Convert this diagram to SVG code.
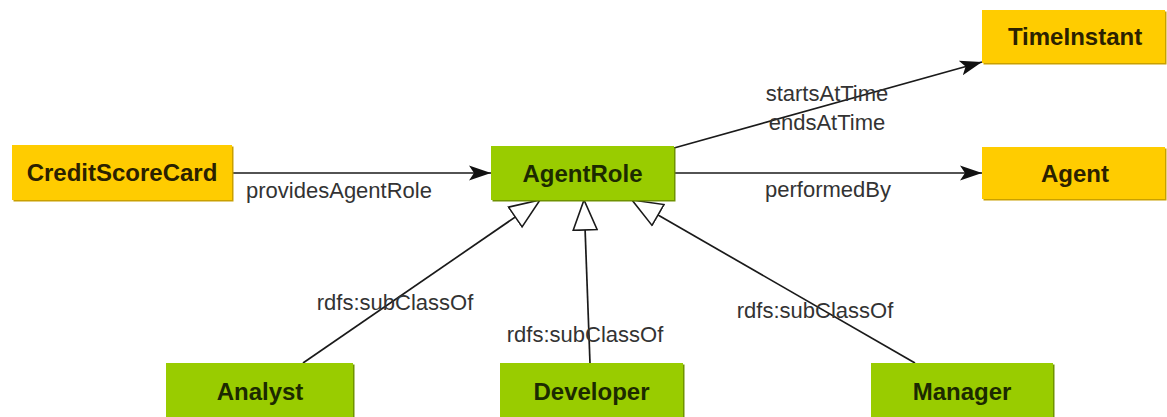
<svg xmlns="http://www.w3.org/2000/svg" width="1167" height="417" viewBox="0 0 1167 417">
  <defs>
    <style>
      .shade-y { fill: #c9a000; }
      .shade-g { fill: #6f9200; }
      .box-y { fill: #ffcc00; }
      .box-g { fill: #99cc00; }
      .cls { font-family: "Liberation Sans", Arial, sans-serif; font-weight: bold; font-size: 24px; text-anchor: middle; dominant-baseline: central; }
      .cls-y { fill: #2b2100; }
      .cls-g { fill: #1c2a00; }
      .edge { fill: none; stroke: #1a1a1a; stroke-width: 1.7; }
      .lbl { font-family: "Liberation Sans", Arial, sans-serif; font-size: 22px; fill: #333333; text-anchor: middle; }
    </style>
    <!-- filled arrowhead for object properties -->
    <marker id="arrow" markerUnits="userSpaceOnUse" markerWidth="24" markerHeight="18" refX="22" refY="9" orient="auto">
      <path d="M0,1.5 L22,9 L0,16.5 L5,9 Z" fill="#111111"/>
    </marker>
    <!-- hollow triangle for rdfs:subClassOf -->
    <marker id="tri" markerUnits="userSpaceOnUse" markerWidth="34" markerHeight="28" refX="31" refY="14" orient="auto">
      <path d="M1,2 L31,14 L1,26 Z" fill="#ffffff" stroke="#1a1a1a" stroke-width="1.6"/>
    </marker>
  </defs>

  <rect width="1167" height="417" fill="#ffffff"/>

  <g id="connectors">
    <line class="edge" x1="232" y1="173" x2="491" y2="173" marker-end="url(#arrow)"/>
    <line class="edge" x1="674" y1="173" x2="982" y2="173" marker-end="url(#arrow)"/>
    <line class="edge" x1="674" y1="148" x2="982" y2="62" marker-end="url(#arrow)"/>
    <line class="edge" x1="303" y1="363" x2="540" y2="200" marker-end="url(#tri)"/>
    <line class="edge" x1="590" y1="363" x2="584" y2="200" marker-end="url(#tri)"/>
    <line class="edge" x1="915" y1="363" x2="632" y2="200" marker-end="url(#tri)"/>

    <text class="lbl" x="339" y="198">providesAgentRole</text>
    <text class="lbl" x="828" y="197">performedBy</text>
    <text class="lbl" x="827" y="101">startsAtTime</text>
    <text class="lbl" x="827" y="130">endsAtTime</text>
    <text class="lbl" x="395" y="310">rdfs:subClassOf</text>
    <text class="lbl" x="585" y="342">rdfs:subClassOf</text>
    <text class="lbl" x="815" y="318">rdfs:subClassOf</text>
  </g>

  <g id="CreditScoreCard">
    <rect class="shade-y" x="13.5" y="146.5" width="220" height="55"/>
    <rect class="box-y" x="12" y="145" width="220" height="55"/>
    <text class="cls cls-y" x="122" y="172.5">CreditScoreCard</text>
  </g>

  <g id="AgentRole">
    <rect class="shade-g" x="492.5" y="147.5" width="183" height="54"/>
    <rect class="box-g" x="491" y="146" width="183" height="54"/>
    <text class="cls cls-g" x="582.5" y="173">AgentRole</text>
  </g>

  <g id="TimeInstant">
    <rect class="shade-y" x="983.5" y="11.5" width="183" height="53"/>
    <rect class="box-y" x="982" y="10" width="183" height="53"/>
    <text class="cls cls-y" x="1075" y="36.5">TimeInstant</text>
  </g>

  <g id="Agent">
    <rect class="shade-y" x="983.5" y="148.5" width="183" height="52"/>
    <rect class="box-y" x="982" y="147" width="183" height="52"/>
    <text class="cls cls-y" x="1075" y="173">Agent</text>
  </g>

  <g id="Analyst">
    <rect class="shade-g" x="167.5" y="364.5" width="187" height="56"/>
    <rect class="box-g" x="166" y="363" width="187" height="56"/>
    <text class="cls cls-g" x="260" y="391">Analyst</text>
  </g>

  <g id="Developer">
    <rect class="shade-g" x="501.5" y="364.5" width="183" height="56"/>
    <rect class="box-g" x="500" y="363" width="183" height="56"/>
    <text class="cls cls-g" x="591.5" y="391">Developer</text>
  </g>

  <g id="Manager">
    <rect class="shade-g" x="872.5" y="364.5" width="182" height="56"/>
    <rect class="box-g" x="871" y="363" width="182" height="56"/>
    <text class="cls cls-g" x="962" y="391">Manager</text>
  </g>
</svg>
